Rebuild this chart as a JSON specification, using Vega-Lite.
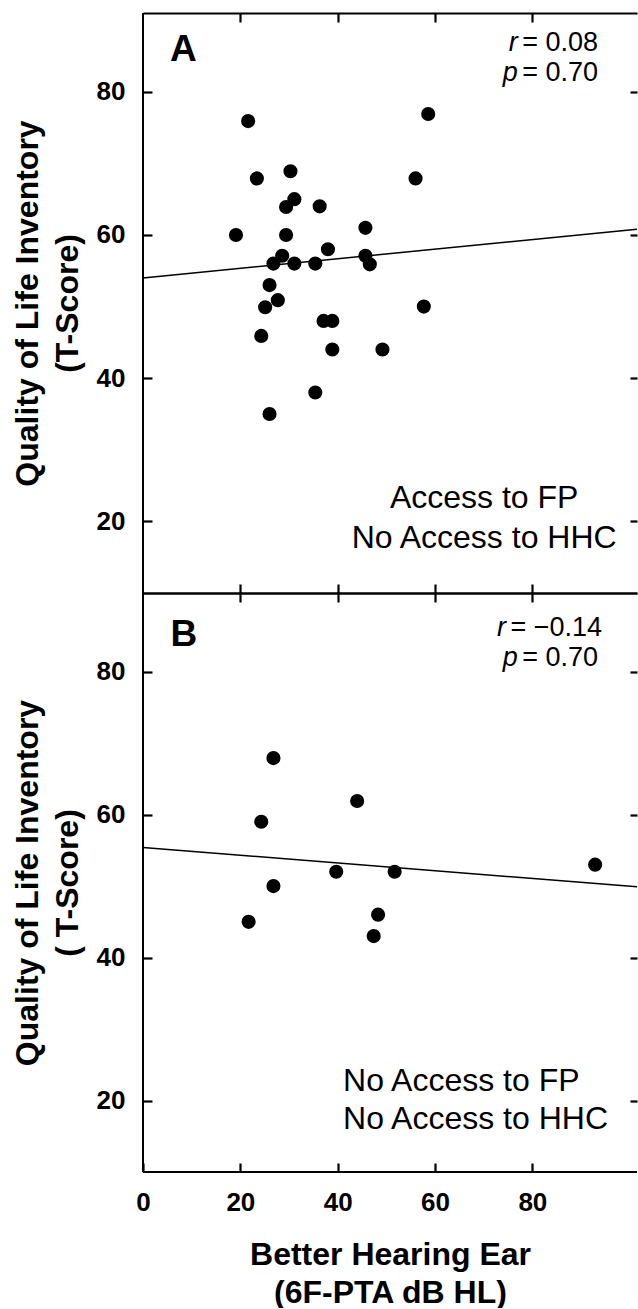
{
  "$schema": "https://vega.github.io/schema/vega-lite/v6.json",
  "autosize": {"type": "pad"},
  "padding": {"left": 11, "top": 11, "right": 0, "bottom": 0},
  "background": "white",
  "spacing": 0,
  "bounds": "flush",
  "config": {
    "view": {"stroke": null},
    "font": "Liberation Sans",
    "axis": {
      "grid": false,
      "domainColor": "black",
      "domainWidth": 2,
      "tickColor": "black",
      "tickWidth": 2.2,
      "labelColor": "black",
      "titleColor": "black",
      "labelFont": "Liberation Sans",
      "titleFont": "Liberation Sans",
      "labelFontWeight": "bold",
      "labelFontSize": 26,
      "titleFontWeight": "bold",
      "titleFontSize": 32,
      "labelFlush": false
    },
    "text": {"font": "Liberation Sans", "color": "black"}
  },
  "datasets": {
    "panelA": [
      {"pta": 21.6, "qoli": 75.9}, {"pta": 23.4, "qoli": 67.9}, {"pta": 30.3, "qoli": 68.9},
      {"pta": 31.1, "qoli": 65.0}, {"pta": 29.4, "qoli": 63.9}, {"pta": 36.3, "qoli": 64.0},
      {"pta": 19.1, "qoli": 60.0}, {"pta": 29.4, "qoli": 60.0}, {"pta": 45.7, "qoli": 61.0},
      {"pta": 38.0, "qoli": 58.0}, {"pta": 28.6, "qoli": 57.1}, {"pta": 26.8, "qoli": 56.0},
      {"pta": 31.1, "qoli": 56.0}, {"pta": 35.4, "qoli": 56.0}, {"pta": 45.7, "qoli": 57.1},
      {"pta": 46.6, "qoli": 55.9}, {"pta": 26.0, "qoli": 53.0}, {"pta": 27.7, "qoli": 50.9},
      {"pta": 25.1, "qoli": 49.9}, {"pta": 37.1, "qoli": 48.0}, {"pta": 38.9, "qoli": 48.0},
      {"pta": 24.3, "qoli": 45.9}, {"pta": 38.9, "qoli": 44.0}, {"pta": 49.2, "qoli": 44.0},
      {"pta": 35.4, "qoli": 38.0}, {"pta": 26.0, "qoli": 35.0}, {"pta": 58.6, "qoli": 76.9},
      {"pta": 56.0, "qoli": 67.9}, {"pta": 57.7, "qoli": 50.0}
    ],
    "panelB": [
      {"pta": 26.8, "qoli": 67.9}, {"pta": 44.0, "qoli": 61.9}, {"pta": 24.3, "qoli": 59.0},
      {"pta": 39.7, "qoli": 52.0}, {"pta": 26.8, "qoli": 50.0}, {"pta": 21.7, "qoli": 45.0},
      {"pta": 48.3, "qoli": 46.0}, {"pta": 47.4, "qoli": 43.0}, {"pta": 51.7, "qoli": 52.0},
      {"pta": 92.9, "qoli": 53.0}
    ],
    "fitA": [{"pta": 0, "qoli": 54.0}, {"pta": 101.5, "qoli": 60.8}],
    "fitB": [{"pta": 0, "qoli": 55.4}, {"pta": 101.5, "qoli": 49.9}]
  },
  "vconcat": [
    {
      "width": 494,
      "height": 580,
      "layer": [
        {
          "data": {"name": "panelA"},
          "mark": {"type": "circle", "size": 200, "opacity": 1, "color": "black"},
          "encoding": {
            "x": {"field": "pta", "type": "quantitative", "scale": {"domain": [0, 101.5], "nice": false, "zero": false},
              "axis": {"orient": "bottom", "labels": false, "title": null, "domain": true, "ticks": true, "tickSize": -9, "values": [20, 40, 60, 80]}},
            "y": {"field": "qoli", "type": "quantitative", "scale": {"domain": [10, 91], "nice": false, "zero": false},
              "axis": {"orient": "left", "offset": -9, "domain": false, "ticks": true, "tickSize": 9, "values": [20, 40, 60, 80], "labelPadding": 18,
                "title": ["Quality of Life Inventory", "(T-Score)"], "titleX": -125, "titleY": 290, "titleAngle": 270,
                "titleAlign": "center", "titleBaseline": "middle", "titleLineHeight": 40}}
          }
        },
        {
          "data": {"name": "fitA"},
          "mark": {"type": "line", "color": "black", "strokeWidth": 1.5},
          "encoding": {
            "x": {"field": "pta", "type": "quantitative", "scale": {"domain": [0, 101.5], "nice": false, "zero": false},
              "axis": {"orient": "top", "labels": false, "title": null, "domain": true, "ticks": true, "tickSize": -9, "values": [20, 40, 60, 80]}},
            "y": {"field": "qoli", "type": "quantitative", "scale": {"domain": [10, 91], "nice": false, "zero": false},
              "axis": {"orient": "right", "labels": false, "title": null, "domain": false, "ticks": true, "tickSize": -7, "values": [20, 40, 60, 80]}}
          }
        },
        {
          "data": {"values": [{"edge": "left"}]},
          "mark": {"type": "rule", "color": "black", "strokeWidth": 2},
          "encoding": {
            "x": {"datum": 0, "type": "quantitative", "axis": null}
          }
        },
        {
          "data": {"values": [{"t": "A"}]},
          "mark": {"type": "text", "fontSize": 37, "fontWeight": "bold", "align": "center", "baseline": "middle"},
          "encoding": {
            "text": {"field": "t"},
            "x": {"datum": 8.3, "type": "quantitative", "axis": null},
            "y": {"datum": 85.8, "type": "quantitative", "axis": null}
          }
        },
        {
          "data": {"values": [{"t": "r\np"}]},
          "mark": {"type": "text", "fontSize": 27, "fontStyle": "italic", "align": "right", "baseline": "middle", "lineBreak": "\n", "lineHeight": 30},
          "encoding": {
            "text": {"field": "t"},
            "x": {"datum": 77.0, "type": "quantitative", "axis": null},
            "y": {"datum": 86.8, "type": "quantitative", "axis": null}
          }
        },
        {
          "data": {"values": [{"t": "= 0.08\n= 0.70"}]},
          "mark": {"type": "text", "fontSize": 27, "align": "left", "baseline": "middle", "lineBreak": "\n", "lineHeight": 30},
          "encoding": {
            "text": {"field": "t"},
            "x": {"datum": 77.9, "type": "quantitative", "axis": null},
            "y": {"datum": 86.8, "type": "quantitative", "axis": null}
          }
        },
        {
          "data": {"values": [{"t": "Access to FP\nNo Access to HHC"}]},
          "mark": {"type": "text", "fontSize": 32, "align": "center", "baseline": "middle", "lineBreak": "\n", "lineHeight": 40},
          "encoding": {
            "text": {"field": "t"},
            "x": {"datum": 70.1, "type": "quantitative", "axis": null},
            "y": {"datum": 23.3, "type": "quantitative", "axis": null}
          }
        }
      ],
      "resolve": {"axis": {"x": "independent", "y": "independent"}}
    },
    {
      "width": 494,
      "height": 579,
      "layer": [
        {
          "data": {"name": "panelB"},
          "mark": {"type": "circle", "size": 200, "opacity": 1, "color": "black"},
          "encoding": {
            "x": {"field": "pta", "type": "quantitative", "scale": {"domain": [0, 101.5], "nice": false, "zero": false},
              "axis": {"orient": "bottom", "offset": -9, "ticks": true, "tickSize": 9, "domain": false, "values": [0, 20, 40, 60, 80], "labelPadding": 17,
                "title": ["Better Hearing Ear", "(6F-PTA dB HL)"], "titleX": 247, "titleY": 91, "titleAlign": "center",
                "titleBaseline": "middle", "titleLineHeight": 38}},
            "y": {"field": "qoli", "type": "quantitative", "scale": {"domain": [10, 91], "nice": false, "zero": false},
              "axis": {"orient": "left", "offset": -9, "domain": false, "ticks": true, "tickSize": 9, "values": [20, 40, 60, 80], "labelPadding": 18,
                "title": ["Quality of Life Inventory", "( T-Score)"], "titleX": -125, "titleY": 289.5, "titleAngle": 270,
                "titleAlign": "center", "titleBaseline": "middle", "titleLineHeight": 40}}
          }
        },
        {
          "data": {"name": "fitB"},
          "mark": {"type": "line", "color": "black", "strokeWidth": 1.5},
          "encoding": {
            "x": {"field": "pta", "type": "quantitative", "scale": {"domain": [0, 101.5], "nice": false, "zero": false},
              "axis": {"orient": "top", "labels": false, "title": null, "domain": true, "ticks": true, "tickSize": -9, "values": [20, 40, 60, 80]}},
            "y": {"field": "qoli", "type": "quantitative", "scale": {"domain": [10, 91], "nice": false, "zero": false},
              "axis": {"orient": "right", "labels": false, "title": null, "domain": false, "ticks": true, "tickSize": -7, "values": [20, 40, 60, 80]}}
          }
        },
        {
          "data": {"values": [{"edge": "left"}]},
          "mark": {"type": "rule", "color": "black", "strokeWidth": 2},
          "encoding": {
            "x": {"datum": 0, "type": "quantitative", "axis": null}
          }
        },
        {
          "data": {"values": [{"edge": "bottom"}]},
          "mark": {"type": "rule", "color": "black", "strokeWidth": 2},
          "encoding": {
            "y": {"datum": 10, "type": "quantitative", "axis": null}
          }
        },
        {
          "data": {"values": [{"t": "B"}]},
          "mark": {"type": "text", "fontSize": 37, "fontWeight": "bold", "align": "center", "baseline": "middle"},
          "encoding": {
            "text": {"field": "t"},
            "x": {"datum": 8.4, "type": "quantitative", "axis": null},
            "y": {"datum": 85.1, "type": "quantitative", "axis": null}
          }
        },
        {
          "data": {"values": [{"t": "r"}]},
          "mark": {"type": "text", "fontSize": 27, "fontStyle": "italic", "align": "right", "baseline": "middle"},
          "encoding": {
            "text": {"field": "t"},
            "x": {"datum": 74.6, "type": "quantitative", "axis": null},
            "y": {"datum": 86.1, "type": "quantitative", "axis": null}
          }
        },
        {
          "data": {"values": [{"t": "= −0.14"}]},
          "mark": {"type": "text", "fontSize": 27, "align": "left", "baseline": "middle"},
          "encoding": {
            "text": {"field": "t"},
            "x": {"datum": 75.5, "type": "quantitative", "axis": null},
            "y": {"datum": 86.1, "type": "quantitative", "axis": null}
          }
        },
        {
          "data": {"values": [{"t": "p"}]},
          "mark": {"type": "text", "fontSize": 27, "fontStyle": "italic", "align": "right", "baseline": "middle"},
          "encoding": {
            "text": {"field": "t"},
            "x": {"datum": 77.0, "type": "quantitative", "axis": null},
            "y": {"datum": 81.9, "type": "quantitative", "axis": null}
          }
        },
        {
          "data": {"values": [{"t": "= 0.70"}]},
          "mark": {"type": "text", "fontSize": 27, "align": "left", "baseline": "middle"},
          "encoding": {
            "text": {"field": "t"},
            "x": {"datum": 77.9, "type": "quantitative", "axis": null},
            "y": {"datum": 81.9, "type": "quantitative", "axis": null}
          }
        },
        {
          "data": {"values": [{"t": "No Access to FP\nNo Access to HHC"}]},
          "mark": {"type": "text", "fontSize": 32, "align": "left", "baseline": "middle", "lineBreak": "\n", "lineHeight": 38},
          "encoding": {
            "text": {"field": "t"},
            "x": {"datum": 41.1, "type": "quantitative", "axis": null},
            "y": {"datum": 22.7, "type": "quantitative", "axis": null}
          }
        }
      ],
      "resolve": {"axis": {"x": "independent", "y": "independent"}}
    }
  ]
}
